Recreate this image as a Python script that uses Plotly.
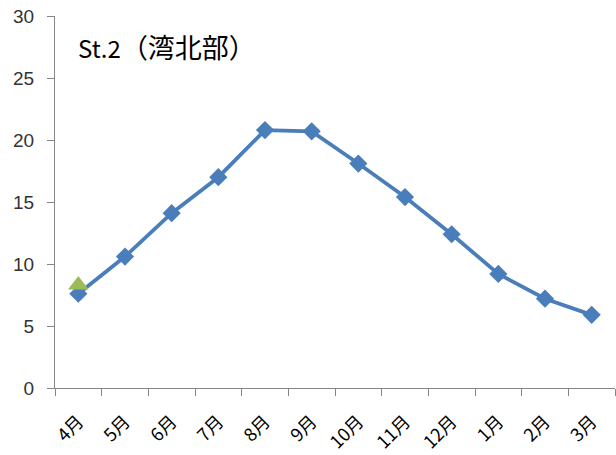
import plotly.graph_objects as go

months = ["4月", "5月", "6月", "7月", "8月", "9月", "10月", "11月", "12月", "1月", "2月", "3月"]
temps = [7.6, 10.6, 14.1, 17.0, 20.8, 20.7, 18.1, 15.4, 12.4, 9.2, 7.2, 5.9]
extra_month = ["4月"]
extra_value = [8.3]
title_latin = "St.2"
title_cjk = "（湾北部）"

fig = go.Figure()
fig.add_trace(go.Scatter(
    x=months, y=temps, mode="lines+markers",
    line=dict(color="#4A7EBB", width=3.8),
    marker=dict(symbol="diamond", size=14, color="#4A7EBB"),
    showlegend=False,
))
fig.add_trace(go.Scatter(
    x=extra_month, y=extra_value, mode="markers",
    marker=dict(symbol="triangle-up", size=18, color="#9BBB59"),
    showlegend=False,
))

fig.add_annotation(
    text=f"<span style='font-size:24px'>{title_latin}</span>{title_cjk}",
    xref="paper", yref="paper", x=0.038, y=0.917,
    xanchor="left", yanchor="middle", showarrow=False,
    font=dict(size=27, color="#000000", family="Noto Sans CJK JP"),
)

fig.update_layout(
    width=616, height=455,
    margin=dict(l=55, r=1, t=16, b=67),
    paper_bgcolor="white", plot_bgcolor="white",
    font=dict(family="Liberation Sans, Noto Sans CJK JP", color="#404040"),
)
fig.update_xaxes(
    type="category", range=[-0.5, 11.5], tickson="boundaries",
    ticks="outside", ticklen=7, tickcolor="#868686",
    showline=True, linecolor="#868686", linewidth=1,
    showgrid=False, tickangle=-45, automargin=False, ticklabelstandoff=15,
    tickfont=dict(size=18, color="#000000", family="Noto Sans CJK JP"),
)
fig.update_yaxes(
    range=[0, 30], dtick=5, ticks="outside", ticklen=7, tickcolor="#868686",
    showline=True, linecolor="#868686", linewidth=1, showgrid=False,
    zeroline=False, automargin=False, ticklabelstandoff=9,
    tickfont=dict(size=19, color="#333333"),
)

fig.write_html("out.html", config={"displayModeBar": False},
               post_script="document.body.style.margin='0';")
